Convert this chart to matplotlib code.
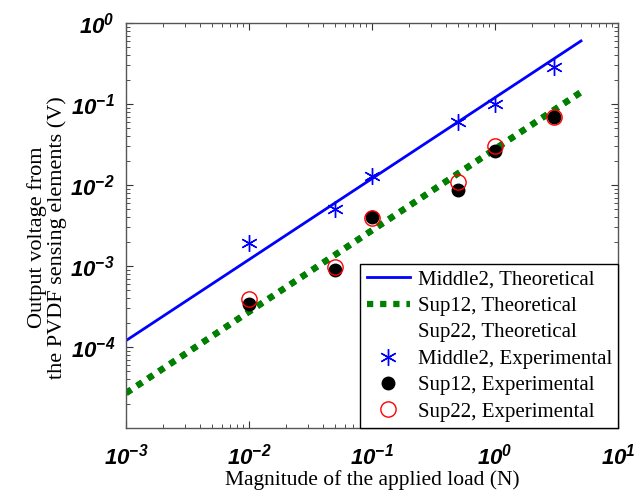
import numpy as np
import matplotlib
matplotlib.use('Agg')
import matplotlib.pyplot as plt
from matplotlib.ticker import LogLocator, FuncFormatter, NullFormatter, FixedLocator
from matplotlib.lines import Line2D

# tick labels in bold italic sans, like the original MATLAB figure
plt.rcParams['mathtext.fontset'] = 'custom'
plt.rcParams['mathtext.rm'] = 'Liberation Sans:italic:bold'
plt.rcParams['mathtext.it'] = 'Liberation Sans:italic:bold'
plt.rcParams['mathtext.bf'] = 'Liberation Sans:italic:bold'
plt.rcParams['font.family'] = 'Liberation Serif'

# theoretical lines (read at the line ends)
load_theory = [1e-3, 5]
middle2_theory = [1.2e-4, 0.6]
sup_theory = [2.7e-5, 0.14]

# experimental points
load_exp = [0.01, 0.05, 0.1, 0.5, 1, 3]
middle2_exp = [1.9e-3, 5.0e-3, 1.3e-2, 6.0e-2, 0.10, 0.29]
sup12_exp = [3.4e-4, 8.9e-4, 4.0e-3, 8.6e-3, 2.6e-2, 6.9e-2]
sup22_exp = [3.9e-4, 9.8e-4, 3.9e-3, 1.1e-2, 3.0e-2, 7.0e-2]

labels = ['Middle2, Theoretical', 'Sup12, Theoretical', 'Sup22, Theoretical',
          'Middle2, Experimental', 'Sup12, Experimental', 'Sup22, Experimental']

fig = plt.figure(figsize=(6.44, 4.97), dpi=100)
ax = fig.add_axes([0.1957, 0.1388, 0.764, 0.815])

l1, = ax.plot(load_theory, middle2_theory, color='#0000ff', lw=2)
l2, = ax.plot(load_theory, sup_theory, color='#008000', lw=4.5, ls=(0, (1, 1.1)))
l3, = ax.plot(load_theory, sup_theory, color='#008000', lw=4.5, ls=(0, (1, 1.1)))
p1, = ax.plot(load_exp, middle2_exp, ls='none', marker=(6, 2, 0), color='#0000ff',
              ms=12, markeredgewidth=1)
p2, = ax.plot(load_exp, sup12_exp, ls='none', marker='o', color='black', ms=9)
p3, = ax.plot(load_exp, sup22_exp, ls='none', marker='o', mfc='none',
              mec='red', ms=11, markeredgewidth=1)

ax.set_xscale('log')
ax.set_yscale('log')
ax.set_xlim(1e-3, 1e1)
ax.set_ylim(1e-5, 1e0)

fmt = FuncFormatter(lambda v, p: r'$10^{%d}$' % round(np.log10(v)))
ax.xaxis.set_major_locator(FixedLocator([1e-3, 1e-2, 1e-1, 1e0, 1e1]))
ax.yaxis.set_major_locator(FixedLocator([1e-4, 1e-3, 1e-2, 1e-1, 1e0]))
ax.xaxis.set_major_formatter(fmt)
ax.yaxis.set_major_formatter(fmt)
ax.xaxis.set_minor_locator(LogLocator(base=10, subs=np.arange(2, 10), numticks=20))
ax.yaxis.set_minor_locator(LogLocator(base=10, subs=np.arange(2, 10), numticks=20))
ax.xaxis.set_minor_formatter(NullFormatter())
ax.yaxis.set_minor_formatter(NullFormatter())
ax.tick_params(which='both', direction='in', top=True, right=True, color='#333333')
ax.tick_params(which='major', length=5, labelsize=16)
ax.tick_params(which='minor', length=3)
ax.tick_params(axis='x', which='major', pad=11)
ax.tick_params(axis='y', which='major', pad=8)
for s in ax.spines.values():
    s.set_color('#555555')
    s.set_linewidth(1)

ax.set_xlabel('Magnitude of the applied load (N)', fontsize=15.5, labelpad=1)
ax.set_ylabel('Output voltage from\nthe PVDF sensing elements (V)', fontsize=16,
              linespacing=1.0)
ax.yaxis.set_label_coords(-0.12, 0.47)

blank = Line2D([], [], color='none')
leg = ax.legend([l1, l2, blank, p1, p2, p3], labels,
                loc='lower right', bbox_to_anchor=(1, 0), borderaxespad=0,
                fancybox=False, framealpha=1, edgecolor='black', fontsize=15,
                handlelength=2.1, handletextpad=0.35, labelspacing=0.33,
                borderpad=0.3)
leg.get_frame().set_linewidth(1)

plt.savefig('out.png', dpi=100)
